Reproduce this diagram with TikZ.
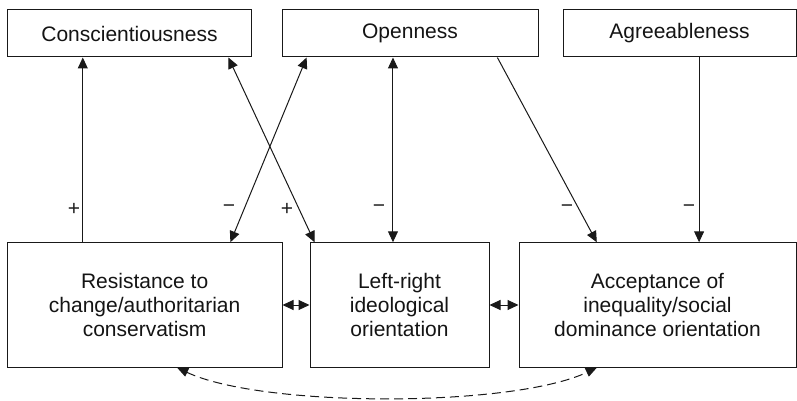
\documentclass[tikz,border=0pt]{standalone}
\usepackage{fontspec}
\setmainfont{Liberation Sans}
\usetikzlibrary{arrows.meta,calc}
\begin{document}
\begin{tikzpicture}[x=1pt,y=-1pt,
  box/.style={draw=black!90,line width=1pt,inner sep=0pt,align=center,
    font=\fontsize{21}{23.7}\selectfont,text=black!92},
  lnk/.style={draw=black!90,line width=1pt},
  tip/.style={-{Triangle[length=11pt,width=10pt]}},
  tips/.style={{Triangle[length=11pt,width=10pt]}-{Triangle[length=11pt,width=10pt]}},
  sgn/.style={font=\fontsize{21}{24}\selectfont,text=black!88,inner sep=0pt}]
\useasboundingbox (0,0) rectangle (797,401);
% top boxes
\node[box,minimum width=244.4pt,minimum height=47pt] (con) at (129.5,33.5) {Conscientiousness};
\node[box,minimum width=256pt,minimum height=47pt] (ope) at (410,33.5) {Openness};
\node[box,minimum width=233pt,minimum height=47pt] (agr) at (679.5,33.5) {Agreeableness};
% bottom boxes
\node[box,minimum width=274.7pt,minimum height=124.5pt] (rtc) at (144.65,305) {Resistance to\\change/authoritarian\\conservatism};
\node[box,minimum width=179pt,minimum height=124.5pt] (lr) at (399.5,305) {Left-right\\ideological\\orientation};
\node[box,minimum width=277pt,minimum height=124.5pt] (acc) at (657.5,305) {Acceptance of\\inequality/social\\dominance orientation};
% connectors
\draw[lnk,tip] ($(rtc.north west)!0.2756!(rtc.north east)$) coordinate (p1) -- (p1 |- con.south);
\draw[lnk,tips] ($(con.south west)!0.903!(con.south east)$) -- ($(lr.north west)!0.028!(lr.north east)$);
\draw[lnk,tips] ($(ope.south west)!0.0977!(ope.south east)$) -- ($(rtc.north west)!0.811!(rtc.north east)$);
\draw[lnk,tips] ($(lr.north west)!0.4637!(lr.north east)$) coordinate (p2) -- (p2 |- ope.south);
\draw[lnk,tip] ($(ope.south west)!0.84!(ope.south east)$) -- ($(acc.north west)!0.2816!(acc.north east)$);
\draw[lnk,tip] ($(agr.south west)!0.5837!(agr.south east)$) coordinate (p3) -- (p3 |- acc.north);
\draw[lnk,tips] (rtc.east) -- (lr.west);
\draw[lnk,tips] (lr.east) -- (acc.west);
\coordinate (d1) at ($(rtc.south west)!0.618!(rtc.south east)$);
\coordinate (d2) at ($(acc.south west)!0.2816!(acc.south east)$);
\draw[lnk,dash pattern=on 9pt off 5pt,{Triangle[length=11pt,width=9pt]}-{Triangle[length=11pt,width=9pt]}]
  (d1) .. controls ($(d1)+(85,40)$) and ($(d2)+(-85,40)$) .. (d2);
% signs
\node[sgn] (s1) at (74,209) {+};
\node[sgn] (s2) at (229,209) {−};
\node[sgn] (s3) at (287,209) {+};
\node[sgn] (s4) at (379,209) {−};
\node[sgn] (s5) at (567,209) {−};
\node[sgn] (s6) at (689,209) {−};
\end{tikzpicture}
\end{document}
